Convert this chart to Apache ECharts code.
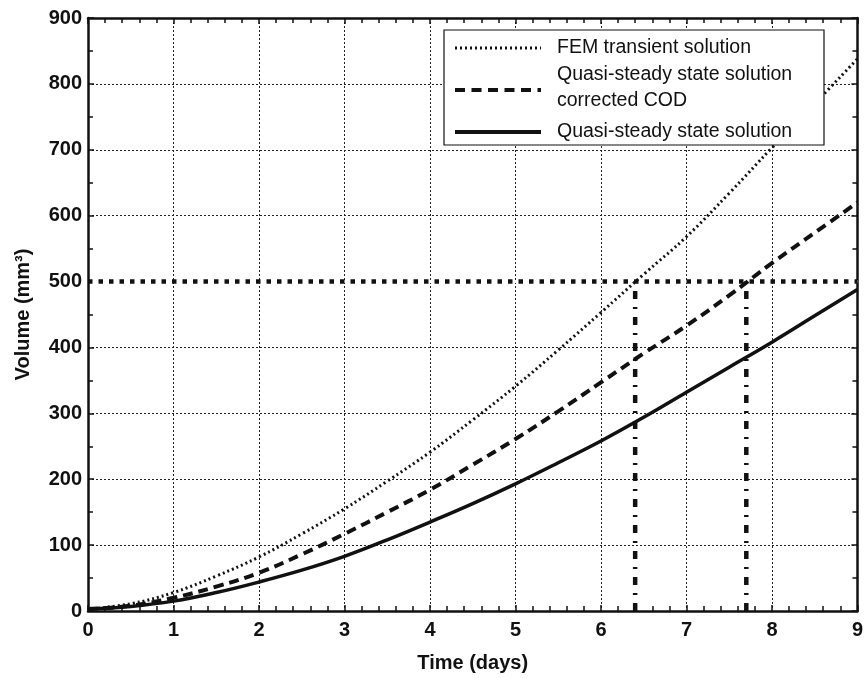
<!DOCTYPE html>
<html>
<head>
<meta charset="utf-8">
<script src="https://cdn.jsdelivr.net/npm/echarts@6/dist/echarts.min.js"></script>
<style>
html,body{margin:0;padding:0;background:#fff;}
#chart{width:866px;height:678px;}
</style>
</head>
<body>
<div id="chart"></div>
<script>
// Time (days)
var timeDays = [0, 0.5, 1, 1.5, 2, 2.5, 3, 3.5, 4, 4.5, 5, 5.5, 6, 6.5, 7, 7.5, 8, 8.5, 9];
// Volume (mm^3)
var femTransient   = [3, 11, 28, 53, 82, 117, 155, 197, 241, 290, 341, 396, 453, 511, 568, 634, 703, 770, 838];
var quasiCorrected = [3, 8, 20, 37, 58, 86, 117, 150, 184, 222, 261, 303, 347, 391, 433, 479, 528, 574, 620];
var quasiSteady    = [3, 7, 15, 28, 44, 62, 83, 108, 135, 163, 193, 225, 258, 294, 332, 370, 408, 448, 488];
// reference level and crossing times
var refVolume = 500;
var crossTimes = [6.4, 7.7];
var seriesNames = ['FEM transient solution', 'Quasi-steady state solution', 'corrected COD', 'Quasi-steady state solution'];

function pairs(xs, ys) { return xs.map(function (x, i) { return [x, ys[i]]; }); }

var FONT = '"Liberation Sans", Arial, Helvetica, sans-serif';
var axisLine = { show: true, onZero: false, lineStyle: { color: '#111', width: 2.5 } };

var chart = echarts.init(document.getElementById('chart'), null, { renderer: 'canvas' });

function mkX(extra) {
  return Object.assign({
    type: 'value', min: 0, max: 9, interval: 1,
    axisLine: axisLine,
    axisTick: { show: true, inside: true, length: 6, lineStyle: { color: '#111', width: 1.5 } },
    minorTick: { show: true, splitNumber: 5, length: 5, lineStyle: { color: '#111', width: 1.5 } }
  }, extra);
}
function mkY(extra) {
  return Object.assign({
    type: 'value', min: 0, max: 900, interval: 100,
    axisLine: axisLine,
    axisTick: { show: true, inside: true, length: 6, lineStyle: { color: '#111', width: 1.5 } },
    minorTick: { show: true, splitNumber: 2, length: 5, lineStyle: { color: '#111', width: 1.5 } }
  }, extra);
}

var series = [
  {
    name: 'refMask', type: 'line', data: [[0, refVolume], [9, refVolume]],
    showSymbol: false, symbol: 'none', silent: true,
    lineStyle: { color: '#fff', width: 3, type: 'solid' }, z: 1
  },
  {
    name: seriesNames[0], type: 'line', data: pairs(timeDays, femTransient),
    smooth: 0.4, showSymbol: false, symbol: 'none',
    lineStyle: { color: '#111', width: 3, type: [2, 3] }, z: 3
  },
  {
    name: seriesNames[1], type: 'line', data: pairs(timeDays, quasiCorrected),
    smooth: 0.4, showSymbol: false, symbol: 'none',
    lineStyle: { color: '#111', width: 4, type: [10, 6] }, z: 3
  },
  {
    name: seriesNames[3], type: 'line', data: pairs(timeDays, quasiSteady),
    smooth: 0.4, showSymbol: false, symbol: 'none',
    lineStyle: { color: '#111', width: 3.5, type: 'solid' }, z: 3
  },
  {
    name: 'ref', type: 'line', data: [[0, refVolume], [9, refVolume]],
    showSymbol: false, symbol: 'none', silent: true,
    lineStyle: { color: '#111', width: 4.5, type: [4.5, 6] }, z: 4
  }
];
crossTimes.forEach(function (t) {
  series.push({
    name: 'cross' + t, type: 'line', data: [[t, 0], [t, refVolume]],
    showSymbol: false, symbol: 'none', silent: true,
    lineStyle: { color: '#111', width: 4.5, type: [8, 8, 2, 8] }, z: 4
  });
});

// legend drawn as graphic
var lgX = 444, lgY = 30, lgW = 380, lgH = 115;
var legendFont = '19.5px ' + FONT;
var legendGraphic = [
  { type: 'rect', shape: { x: lgX, y: lgY, width: lgW, height: lgH }, style: { fill: '#fff', stroke: '#111', lineWidth: 1.2 }, z: 10 },
  { type: 'line', shape: { x1: 455, y1: 48, x2: 541, y2: 48 }, style: { stroke: '#111', lineWidth: 3, lineDash: [2, 3] }, z: 11 },
  { type: 'line', shape: { x1: 455, y1: 90, x2: 541, y2: 90 }, style: { stroke: '#111', lineWidth: 4, lineDash: [10, 6.5] }, z: 11 },
  { type: 'line', shape: { x1: 455, y1: 132, x2: 541, y2: 132 }, style: { stroke: '#111', lineWidth: 4 }, z: 11 },
  { type: 'text', x: 557, y: 48, style: { text: seriesNames[0], font: legendFont, fill: '#111', verticalAlign: 'middle' }, z: 11 },
  { type: 'text', x: 557, y: 75, style: { text: seriesNames[1], font: legendFont, fill: '#111', verticalAlign: 'middle' }, z: 11 },
  { type: 'text', x: 557, y: 101, style: { text: seriesNames[2], font: legendFont, fill: '#111', verticalAlign: 'middle' }, z: 11 },
  { type: 'text', x: 557, y: 132, style: { text: seriesNames[3], font: legendFont, fill: '#111', verticalAlign: 'middle' }, z: 11 }
];

var option = {
  backgroundColor: '#fff',
  animation: false,
  grid: { left: 88, right: 7, top: 18, bottom: 67, containLabel: false },
  xAxis: [
    mkX({
      position: 'bottom',
      name: 'Time (days)', nameLocation: 'middle', nameGap: 42,
      nameTextStyle: { fontFamily: FONT, fontWeight: 'bold', fontSize: 20, color: '#111' },
      axisLabel: { show: true, margin: 9, fontFamily: FONT, fontWeight: 'bold', fontSize: 20, color: '#111' },
      splitLine: { show: true, lineStyle: { color: '#222', width: 1, type: [2, 2] } }
    }),
    mkX({ position: 'top', axisLabel: { show: false }, splitLine: { show: false } })
  ],
  yAxis: [
    mkY({
      position: 'left',
      name: 'Volume (mm³)', nameLocation: 'middle', nameGap: 55, nameRotate: 90,
      nameTextStyle: { fontFamily: FONT, fontWeight: 'bold', fontSize: 20, color: '#111' },
      axisLabel: { show: true, margin: 6, fontFamily: FONT, fontWeight: 'bold', fontSize: 20, color: '#111' },
      splitLine: { show: true, lineStyle: { color: '#222', width: 1, type: [2, 2] } }
    }),
    mkY({ position: 'right', axisLabel: { show: false }, splitLine: { show: false } })
  ],
  series: series,
  graphic: legendGraphic
};
chart.setOption(option);
</script>
</body>
</html>
